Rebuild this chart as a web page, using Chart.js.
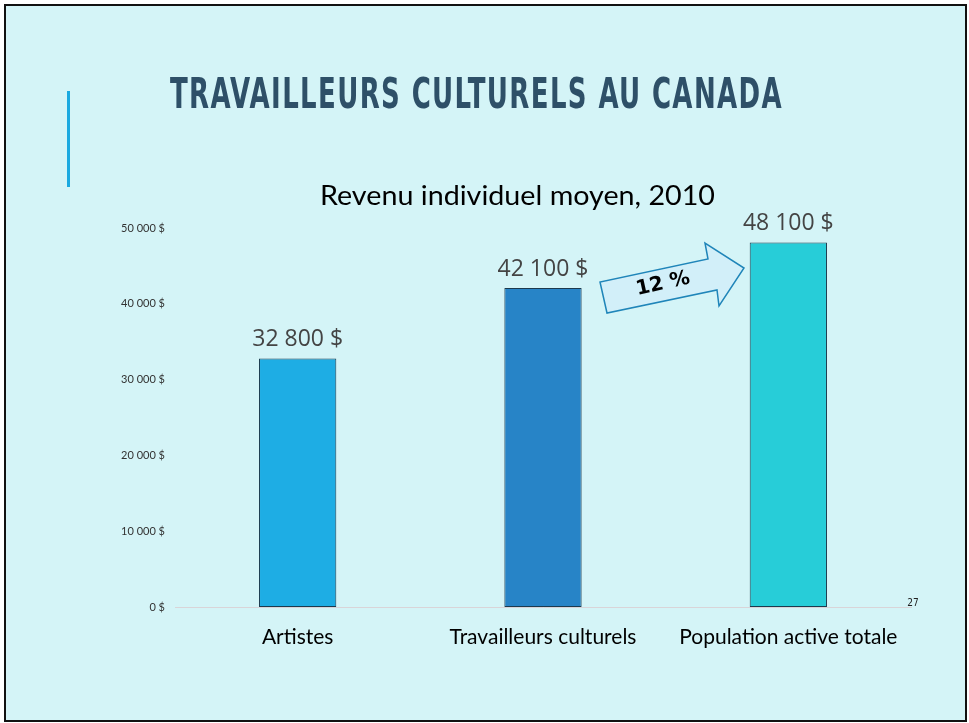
<!DOCTYPE html>
<html>
<head>
<meta charset="utf-8">
<script src="https://cdn.jsdelivr.net/npm/chart.js@4"></script>
<style>
  html, body { margin: 0; padding: 0; background: #fff; }
  #wrap { width: 969px; height: 723px; position: relative; }
</style>
</head>
<body>
<div id="wrap"><canvas id="revenu"></canvas></div>
<script>
const categories = ['Artistes', 'Travailleurs culturels', 'Population active totale'];
const revenus = [32800, 42100, 48100];
const barColors = ['#1eade4', '#2784c7', '#27cdd8'];
const yTicks = [0, 10000, 20000, 30000, 40000, 50000];

function dollars(v) {
    return String(v).replace(/\B(?=(\d{3})+(?!\d))/g, ' ') + ' $';
}

// draw text squeezed/stretched to a given width
function fitText(ctx, txt, x, y, width) {
    const w = ctx.measureText(txt).width;
    ctx.save();
    ctx.translate(x, y);
    ctx.scale(width / w, 1);
    ctx.fillText(txt, 0, 0);
    ctx.restore();
}

// slide frame, heading, arrow, page number
const slide = {
    id: 'slide',
    beforeDraw(chart) {
        const ctx = chart.ctx;
        ctx.save();
        ctx.fillStyle = '#ffffff';
        ctx.fillRect(0, 0, 969, 723);
        ctx.fillStyle = '#d4f4f7';
        ctx.fillRect(5, 5, 961, 716);
        ctx.strokeStyle = '#111';
        ctx.lineWidth = 2;
        ctx.strokeRect(5, 5, 961, 716);

        ctx.fillStyle = '#1aa9e0';
        ctx.fillRect(67, 91, 3, 96);

        ctx.fillStyle = '#2e5068';
        ctx.textBaseline = 'middle';
        ctx.textAlign = 'left';
        ctx.font = "bold 42px 'DejaVu Sans Condensed', 'Liberation Sans Narrow', sans-serif";
        ctx.letterSpacing = '2px';
        fitText(ctx, 'TRAVAILLEURS CULTURELS AU CANADA', 170, 97, 613);
        ctx.letterSpacing = '0px';

        ctx.font = "27px 'Lato', 'Noto Sans', sans-serif";
        ctx.fillStyle = '#000';
        fitText(ctx, 'Revenu individuel moyen, 2010', 320, 196, 395);

        ctx.textAlign = 'center';
        ctx.font = "10px 'Liberation Sans Narrow', 'DejaVu Sans Condensed', sans-serif";
        ctx.fillStyle = '#222';
        ctx.fillText('27', 913, 603);
        ctx.restore();
    },
    afterDatasetsDraw(chart) {
        const ctx = chart.ctx;
        const meta = chart.getDatasetMeta(0);
        ctx.save();
        ctx.font = "23px 'Open Sans', 'Noto Sans', sans-serif";
        ctx.fillStyle = '#444';
        ctx.textAlign = 'center';
        ctx.textBaseline = 'bottom';
        meta.data.forEach((bar, i) => {
            ctx.fillText(dollars(revenus[i]), bar.x, bar.y - 7);
        });

        // arrow between bars 2 and 3
        const pts = [[600, 282], [607, 313], [717, 290], [719, 306], [744, 268], [705, 243], [708, 259]];
        ctx.beginPath();
        pts.forEach((p, i) => i ? ctx.lineTo(p[0], p[1]) : ctx.moveTo(p[0], p[1]));
        ctx.closePath();
        ctx.fillStyle = '#d2eff9';
        ctx.fill();
        ctx.strokeStyle = '#1f85b9';
        ctx.lineWidth = 1.5;
        ctx.stroke();

        ctx.translate(663, 284);
        ctx.rotate(-0.22);
        ctx.font = "bold 20px 'DejaVu Sans', sans-serif";
        ctx.fillStyle = '#000';
        ctx.textBaseline = 'middle';
        ctx.fillText('12 %', 0, 0);
        ctx.restore();
    }
};

new Chart(document.getElementById('revenu'), {
    type: 'bar',
    data: {
        labels: categories,
        datasets: [{
            data: revenus,
            backgroundColor: barColors,
            borderColor: '#1b3a4e',
            borderWidth: 1,
            borderSkipped: false,
            barPercentage: 0.315,
            categoryPercentage: 1
        }]
    },
    options: {
        responsive: true,
        maintainAspectRatio: false,
        animation: false,
        layout: { padding: { top: 228, right: 58, bottom: 0, left: 0 } },
        plugins: {
            legend: { display: false },
            tooltip: { enabled: false }
        },
        scales: {
            x: {
                grid: { display: false, drawTicks: false },
                border: { color: '#d9d4d8', width: 1 },
                ticks: {
                    color: '#000',
                    padding: 18,
                    font: { family: "'Lato', 'Noto Sans', sans-serif", size: 21 }
                },
                afterFit(axis) { axis.height = 116; }
            },
            y: {
                min: 0,
                max: 50000,
                grid: { display: false, drawTicks: false },
                border: { display: false },
                afterBuildTicks(axis) { axis.ticks = yTicks.map(v => ({ value: v })); },
                ticks: {
                    color: '#333',
                    padding: 10,
                    font: { family: "'Lato', 'Noto Sans', sans-serif", size: 11 },
                    callback: v => dollars(v)
                },
                afterFit(axis) { axis.width = 175; }
            }
        }
    },
    plugins: [slide]
});
</script>
</body>
</html>
